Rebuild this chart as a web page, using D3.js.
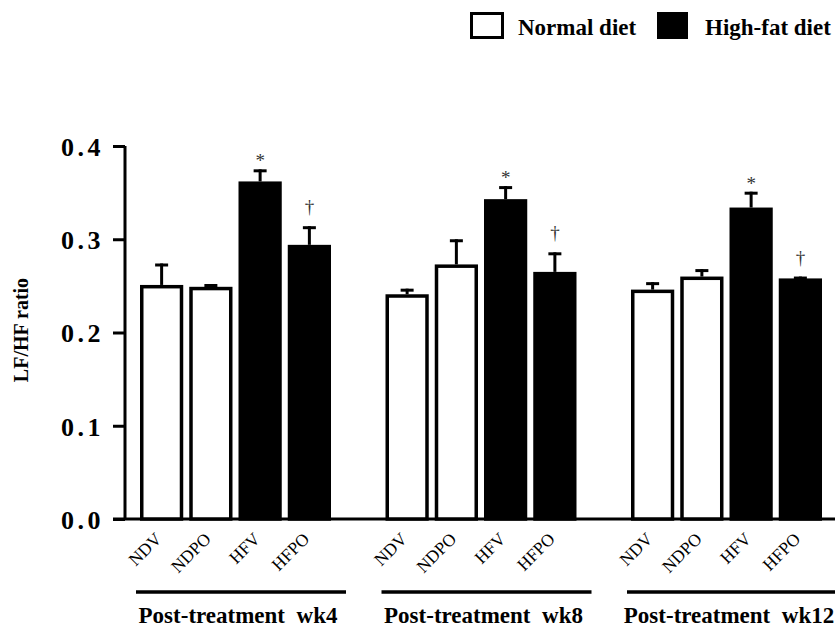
<!DOCTYPE html>
<html>
<head>
<meta charset="utf-8">
<script src="https://cdn.jsdelivr.net/npm/d3@7"></script>
<style>
  html, body { margin: 0; padding: 0; background: #fff; }
  svg { display: block; }
  text { font-family: "Liberation Serif", "Times New Roman", serif; fill: #000; }
</style>
</head>
<body>
<svg id="chart" width="835" height="629"></svg>
<script>
// ---- data ----
const groups = ["Post-treatment  wk4", "Post-treatment  wk8", "Post-treatment  wk12"];
const treatments = ["NDV", "NDPO", "HFV", "HFPO"];
const diet = ["normal", "normal", "high", "high"];
const means = [
  [0.251, 0.249, 0.362, 0.294],
  [0.241, 0.273, 0.343, 0.265],
  [0.246, 0.260, 0.334, 0.258]
];
const sems = [
  [0.023, 0.003, 0.013, 0.020],
  [0.006, 0.027, 0.014, 0.021],
  [0.008, 0.008, 0.017, 0.002]
];
const marks = ["", "", "*", "\u2020"];
const yTicks = [0, 0.1, 0.2, 0.3, 0.4];
const yTickLabels = ["0.0", "0.1", "0.2", "0.3", "0.4"];
const legendLabels = ["Normal diet", "High-fat diet"];
const yLabel = "LF/HF ratio";

// ---- layout ----
const svg = d3.select("#chart");
const baseY = 519, topY = 146, axisX = 125;

const y = d3.scaleLinear().domain([0, 0.4]).range([baseY, topY]);
const x0 = d3.scaleBand().domain(groups).range([140, 822]).paddingInner(0.222).paddingOuter(0);
const x1 = d3.scaleBand().domain(treatments).range([0, x0.bandwidth()]).paddingInner(0.122).paddingOuter(0);
const color = d3.scaleOrdinal().domain(["normal", "high"]).range(["#fff", "#000"]);

const sw = 3.5;

// y axis
const yAxis = d3.axisLeft(y).tickValues(yTicks).tickSize(12).tickFormat((d, i) => yTickLabels[i]);
const gy = svg.append("g").attr("transform", `translate(${axisX},0)`).call(yAxis);
gy.attr("font-family", null).attr("font-size", null);
gy.select(".domain").attr("stroke", "#000").attr("stroke-width", 3)
  .attr("d", `M0,${topY}V${baseY}`);
gy.selectAll(".tick line").attr("stroke", "#000").attr("stroke-width", 3);
gy.selectAll(".tick text")
  .attr("x", -21).attr("dy", "0.36em")
  .style("font-family", "'Liberation Serif', serif")
  .style("font-size", "26px").style("font-weight", "bold")
  .style("letter-spacing", "3.5px").attr("fill", "#000");

// baseline
svg.append("line").attr("x1", 113).attr("x2", 835).attr("y1", baseY).attr("y2", baseY)
  .attr("stroke", "#000").attr("stroke-width", 3);

// y label
svg.append("text")
  .attr("transform", `translate(28,330) rotate(-90)`)
  .attr("text-anchor", "middle")
  .style("font-size", "20px").style("font-weight", "bold")
  .text(yLabel);

// bars
const rows = [];
groups.forEach((g, gi) => treatments.forEach((t, ti) => rows.push({
  g, t, gi, ti, v: means[gi][ti], e: sems[gi][ti], d: diet[ti], m: marks[ti]
})));

const barG = svg.append("g");
barG.selectAll("rect.bar").data(rows).join("rect")
  .attr("class", "bar")
  .attr("x", d => x0(d.g) + x1(d.t) + sw / 2)
  .attr("width", x1.bandwidth() - sw)
  .attr("y", d => y(d.v) + sw / 2)
  .attr("height", d => baseY - y(d.v) - sw / 2)
  .attr("fill", d => color(d.d))
  .attr("stroke", "#000").attr("stroke-width", sw);

// error bars
const cx = d => x0(d.g) + x1(d.t) + x1.bandwidth() / 2;
barG.selectAll("line.err").data(rows).join("line")
  .attr("class", "err")
  .attr("x1", cx).attr("x2", cx)
  .attr("y1", d => y(d.v)).attr("y2", d => y(d.v + d.e))
  .attr("stroke", "#000").attr("stroke-width", 3);
barG.selectAll("line.cap").data(rows).join("line")
  .attr("class", "cap")
  .attr("x1", d => cx(d) - 6.5).attr("x2", d => cx(d) + 6.5)
  .attr("y1", d => y(d.v + d.e) + 1.5).attr("y2", d => y(d.v + d.e) + 1.5)
  .attr("stroke", "#000").attr("stroke-width", 3);

// significance marks
barG.selectAll("text.mark").data(rows.filter(d => d.m)).join("text")
  .attr("class", "mark")
  .attr("x", cx)
  .attr("y", d => y(d.v + d.e) - (d.m === "*" ? 2 : 13))
  .attr("text-anchor", "middle")
  .style("font-size", "19px").style("fill", "#333")
  .text(d => d.m);

// x labels (rotated)
svg.append("g").selectAll("text.xl").data(rows).join("text")
  .attr("class", "xl")
  .attr("transform", d => `translate(${cx(d) + 1},${baseY + 21}) rotate(-45)`)
  .attr("text-anchor", "end")
  .style("font-size", "17.5px")
  .text(d => d.t);

// group lines and labels
const gg = svg.append("g");
gg.selectAll("line.grp").data(groups).join("line")
  .attr("class", "grp")
  .attr("x1", d => x0(d) - 4).attr("x2", d => x0(d) + 206)
  .attr("y1", 592).attr("y2", 592)
  .attr("stroke", "#000").attr("stroke-width", 3.5);
gg.selectAll("text.grp").data(groups).join("text")
  .attr("class", "grp")
  .attr("x", d => x0(d) + 98).attr("y", 623)
  .attr("text-anchor", "middle")
  .style("font-size", "23px").style("font-weight", "bold")
  .style("white-space", "pre")
  .text(d => d);

// legend
const leg = svg.append("g");
const legX = [470, 657], legTX = [518, 705];
leg.selectAll("rect").data(legendLabels).join("rect")
  .attr("x", (d, i) => legX[i] + 1.5).attr("y", 13.5)
  .attr("width", (d, i) => (i === 0 ? 34 : 31) - 3).attr("height", 24)
  .attr("fill", (d, i) => i === 0 ? "#fff" : "#000")
  .attr("stroke", "#000").attr("stroke-width", 3);
leg.selectAll("text").data(legendLabels).join("text")
  .attr("x", (d, i) => legTX[i]).attr("y", 35)
  .style("font-size", "23px").style("font-weight", "bold")
  .text(d => d);
</script>
</body>
</html>
